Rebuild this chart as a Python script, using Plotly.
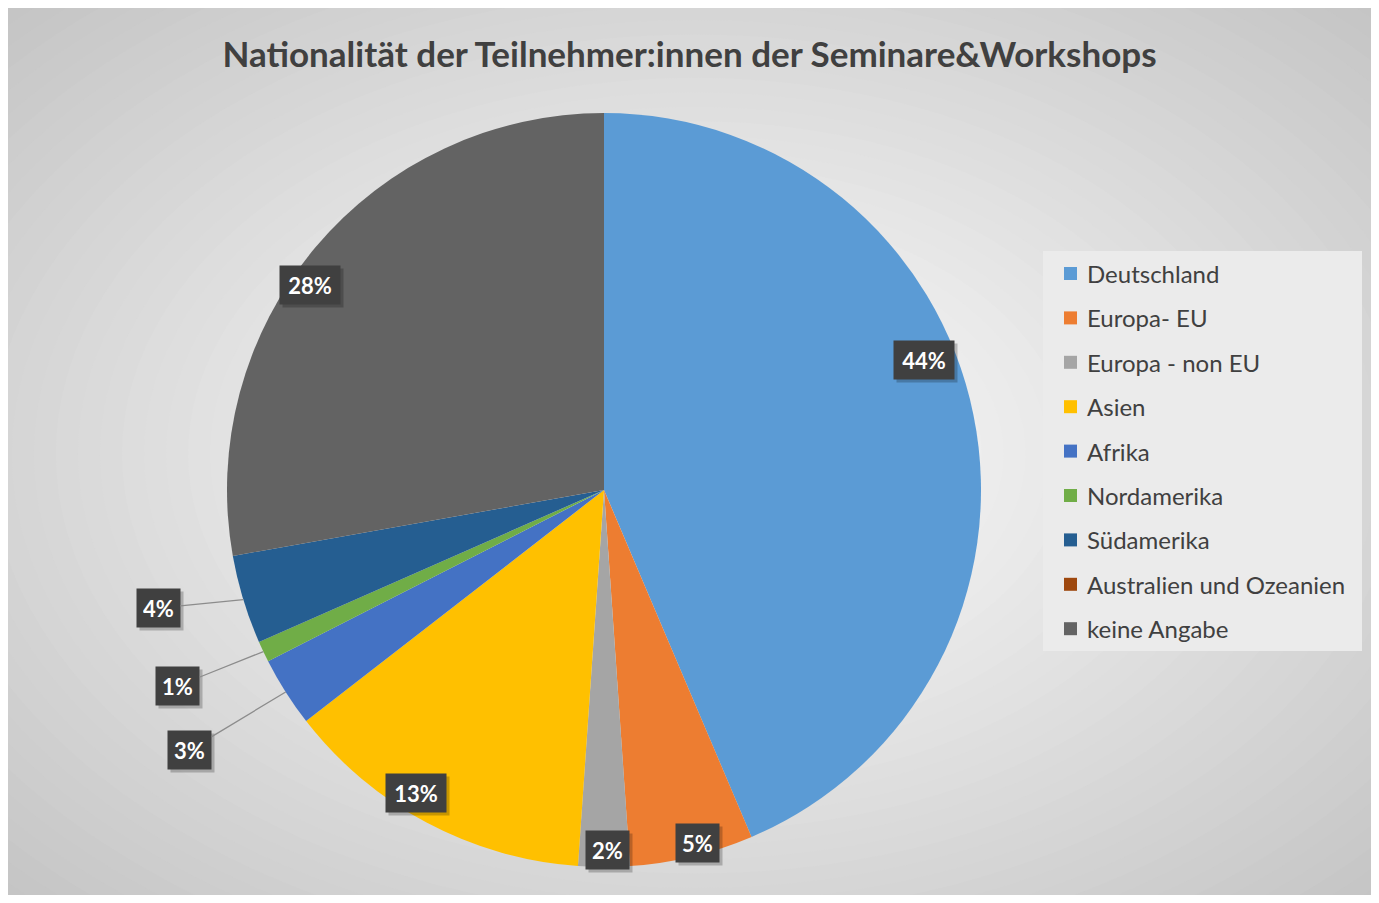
import math
import plotly.graph_objects as go

# ---------------- data ----------------
categories = ["Deutschland", "Europa- EU", "Europa - non EU", "Asien", "Afrika",
              "Nordamerika", "Südamerika", "Australien und Ozeanien", "keine Angabe"]
shares = [43.6, 5.3, 2.2, 13.4, 3.0, 0.9, 3.8, 0.0, 27.8]
title_text = "Nationalität der Teilnehmer:innen der Seminare&amp;Workshops"

# ---------------- style ----------------
colors = ["#5B9BD5", "#ED7D31", "#A5A5A5", "#FFC000", "#4472C4",
          "#70AD47", "#255E91", "#9E480E", "#636363"]
# label placement (radius factor of pie radius, angular nudge in degrees, outside?)
label_rad = [0.915, 0.968, 0.955, 0.947, 1.297, 1.244, 1.223, None, 0.95]
label_dth = [-10.6, -1.3, -0.5, 3.7, 0.3, 0.7, 2.1, 0.0, -5.1]
label_out = [False, False, False, False, True, True, True, False, False]

FONT = "Lato, 'Open Sans', sans-serif"
OFF = 8            # body margin of the page
W, H = 1363, 887   # figure size
CX, CY, R = 604, 490, 377   # pie geometry in page pixels


def px(x):
    return (x - OFF) / W


def py(y):
    return 1 - (y - OFF) / H


fig = go.Figure()

fig.add_trace(go.Pie(
    labels=categories,
    values=shares,
    sort=False,
    direction="clockwise",
    rotation=0,
    marker=dict(colors=colors, line=dict(width=0)),
    textinfo="none",
    hoverinfo="label+percent",
    showlegend=False,
    domain=dict(x=[px(CX - R), px(CX + R)], y=[py(CY + R), py(CY - R)]),
))

shapes = []
# radial gradient background (white centre -> grey edges)
gcx, gcy = 695, 454
N = 45
for k in range(N):
    t = 1.45 * (1 - k / N)
    g = int(round(255 - 58 * min(t / 1.414, 1.0)))
    hx = t * (1379 - 11) / 2
    hy = t * (903 - 5) / 2
    shapes.append(dict(type="circle", xref="paper", yref="paper", layer="below",
                       x0=px(gcx - hx), x1=px(gcx + hx), y0=py(gcy + hy), y1=py(gcy - hy),
                       fillcolor=f"rgb({g},{g},{g})", line=dict(width=0)))

annotations = []
total = sum(shares)
cum = 0.0
LBL_FONT = 22
for i, v in enumerate(shares):
    start = cum
    cum += v
    if v <= 0:
        continue
    mid = (start + v / 2) / total * 360.0
    txt = f"{round(v / total * 100)}%"
    bw = 31 if len(txt) == 2 else 48
    th = math.radians(mid + label_dth[i])
    lx = CX + label_rad[i] * R * math.sin(th)
    ly = CY - label_rad[i] * R * math.cos(th)
    box = dict(text=txt, font=dict(family=FONT, size=LBL_FONT, color="white", weight="bold"),
               bgcolor="#404040", borderpad=6, showarrow=False, width=bw, height=26,
               xref="paper", yref="paper", xanchor="center", yanchor="middle")
    # drop shadow (blank box behind the label)
    annotations.append(dict(box, text=" ", x=px(lx), y=py(ly), xshift=3, yshift=-3,
                            bgcolor="rgba(0,0,0,0.22)"))
    if label_out[i]:
        thm = math.radians(mid)
        ex = CX + R * math.sin(thm)
        ey = CY - R * math.cos(thm)
        annotations.append(dict(box, x=px(ex), y=py(ey), showarrow=True,
                                ax=lx - ex, ay=ly - ey, axref="pixel", ayref="pixel",
                                arrowhead=0, arrowwidth=1.3, arrowcolor="#8c8c8c",
                                standoff=0, startstandoff=0))
    else:
        annotations.append(dict(box, x=px(lx), y=py(ly)))

# custom legend
shapes.append(dict(type="rect", xref="paper", yref="paper", layer="below",
                   x0=px(1043), x1=px(1362), y0=py(651), y1=py(251),
                   fillcolor="#ebebeb", line=dict(width=0)))
for i, (c, col) in enumerate(zip(categories, colors)):
    yc = 273.5 + i * 44.4
    shapes.append(dict(type="rect", xref="paper", yref="paper",
                       x0=px(1064), x1=px(1077), y0=py(yc + 6.5), y1=py(yc - 6.5),
                       fillcolor=col, line=dict(width=0)))
    annotations.append(dict(text=c, x=px(1085), y=py(yc), xref="paper", yref="paper",
                            xanchor="left", yanchor="middle", showarrow=False,
                            font=dict(family=FONT, size=24, color="#404040")))

fig.update_layout(
    width=W, height=H,
    margin=dict(l=0, r=0, t=0, b=0),
    paper_bgcolor="rgb(197,197,197)",
    plot_bgcolor="rgba(0,0,0,0)",
    title=dict(text=title_text, x=0.5, xanchor="center", xref="paper",
               y=py(55), yref="paper", yanchor="middle",
               font=dict(family=FONT, size=35, color="#404040", weight="bold")),
    shapes=shapes,
    annotations=annotations,
    showlegend=False,
)

fig.write_html("out.html")
